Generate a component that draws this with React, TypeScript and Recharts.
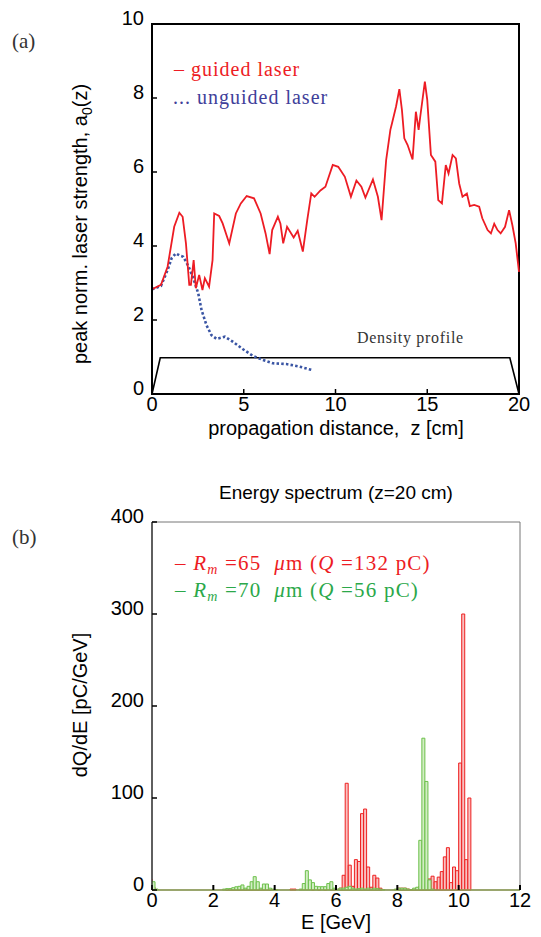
import React from 'react'
import { Bar, BarChart, Line, LineChart, ReferenceArea, XAxis, YAxis } from 'recharts'

// (a) peak normalised laser strength vs propagation distance
const guidedZ = [0, 0.49, 0.85, 1.21, 1.49, 1.67, 1.85, 2.03, 2.12, 2.27, 2.39, 2.57, 2.75, 2.88, 3.11, 3.3, 3.39, 3.66, 3.85, 4.21, 4.57, 4.84, 5.16, 5.56, 5.92, 6.19, 6.41, 6.55, 6.86, 7.0, 7.15, 7.36, 7.72, 7.94, 8.22, 8.46, 8.68, 8.86, 9.18, 9.45, 9.85, 10.15, 10.51, 10.84, 11.14, 11.41, 11.63, 12.04, 12.31, 12.51, 12.76, 12.99, 13.08, 13.3, 13.48, 13.62, 13.75, 13.93, 14.2, 14.38, 14.53, 14.62, 14.87, 15.0, 15.2, 15.44, 15.6, 15.8, 16.01, 16.16, 16.38, 16.56, 16.74, 16.92, 17.16, 17.32, 17.56, 17.83, 18.0, 18.29, 18.47, 18.65, 18.83, 19.0, 19.24, 19.46, 19.64, 19.82, 20]
const guidedA = [2.83, 2.95, 3.44, 4.52, 4.9, 4.79, 4.07, 2.95, 2.95, 3.62, 2.86, 3.22, 2.81, 3.13, 2.9, 3.62, 4.88, 4.81, 4.61, 4.07, 4.88, 5.15, 5.35, 5.29, 4.88, 4.34, 3.78, 4.43, 4.79, 4.6, 4.07, 4.52, 4.23, 4.41, 3.85, 4.7, 5.42, 5.33, 5.5, 5.6, 6.19, 6.14, 5.87, 5.33, 5.77, 5.6, 5.31, 5.8, 5.33, 4.7, 6.32, 7.14, 7.32, 7.77, 8.24, 7.68, 6.91, 6.73, 6.34, 7.63, 7.14, 7.5, 8.44, 7.95, 6.46, 6.28, 5.24, 5.15, 6.19, 5.96, 6.46, 6.37, 5.69, 5.33, 5.42, 5.08, 5.11, 5.06, 4.75, 4.43, 4.34, 4.6, 4.43, 4.34, 4.52, 4.97, 4.56, 4.07, 3.3]

const unguidedZ = [0, 0.49, 0.85, 1.07, 1.3, 1.52, 1.7, 1.98, 2.25, 2.52, 2.7, 2.97, 3.24, 3.52, 3.97, 4.42, 4.96, 5.5, 6.05, 6.59, 7.32, 8.04, 8.71]
const unguidedA = [2.83, 2.92, 3.35, 3.67, 3.8, 3.74, 3.71, 3.46, 3.13, 2.72, 2.27, 1.86, 1.59, 1.49, 1.55, 1.41, 1.21, 1.03, 0.92, 0.83, 0.81, 0.74, 0.65]

const densityZ = [0, 0.45, 19.5, 20]
const densityN = [0, 0.98, 0.98, 0]

const zTicks = [0, 5, 10, 15, 20]
const aTicks = [0, 2, 4, 6, 8, 10]

// (b) energy spectrum, bin centres in GeV
const energyBins = [-0.05, 0.05, 0.15, 2.35, 2.45, 2.55, 2.65, 2.75, 2.85, 2.95, 3.05, 3.15, 3.25, 3.35, 3.45, 3.55, 3.65, 3.75, 3.85, 3.95, 4.05, 4.55, 4.65, 4.85, 4.95, 5.05, 5.15, 5.25, 5.35, 5.45, 5.55, 5.65, 5.75, 5.85, 5.95, 6.05, 6.15, 6.25, 6.35, 6.45, 6.55, 6.65, 6.75, 6.85, 6.95, 7.05, 7.15, 7.25, 7.35, 7.45, 7.55, 7.95, 8.05, 8.15, 8.25, 8.35, 8.45, 8.55, 8.65, 8.75, 8.85, 8.95, 9.05, 9.15, 9.25, 9.35, 9.45, 9.55, 9.65, 9.75, 9.85, 9.95, 10.05, 10.15, 10.25, 10.35]
const redQ = [12, 3, 0, 0, 0.5, 1, 0.5, 1, 0.5, 1, 0.5, 1, 0.5, 1, 0.5, 1, 0.5, 1, 0.5, 0, 0, 1, 1, 0, 0, 0, 0, 0.5, 0, 0.5, 0, 0.5, 0, 0.5, 1, 0, 2, 16, 116, 27, 4, 33, 31, 83, 88, 25, 3, 16, 13, 2, 0, 0, 2, 2, 2, 1, 0.5, 1, 2, 4, 5, 8, 12, 15, 9, 14, 20, 36, 46, 8, 25, 21, 138, 300, 33, 100]
const greenQ = [6, 9, 1, 1, 1.5, 1.5, 2.5, 3.5, 4, 5.5, 2, 4, 9, 14.5, 9, 2, 6.5, 6.5, 2, 1, 0.5, 0, 0, 1, 7, 21, 11, 8, 4, 3.6, 3.6, 3.6, 7, 9, 2, 1, 2, 2, 3, 4, 2, 1, 1.5, 2, 1, 2, 1, 2, 1.5, 1, 0.5, 1, 2, 2, 2, 1, 0.5, 2, 3, 54, 165, 118, 11, 1, 0, 0, 0, 0, 0, 0, 0, 0, 0, 0, 0, 0]

const eTicks = [0, 2, 4, 6, 8, 10, 12]
const qTicks = [0, 100, 200, 300, 400]

const guided = guidedZ.map((z, i) => ({ z, a: guidedA[i] }))
const unguided = unguidedZ.map((z, i) => ({ z, a: unguidedA[i] }))
const density = densityZ.map((z, i) => ({ z, a: densityN[i] }))
const spectrum = energyBins.map((e, i) => ({ e, red: redQ[i], green: greenQ[i] }))

const SANS = '"Liberation Sans", Arial, sans-serif'
const SERIF = '"Liberation Serif", "Times New Roman", serif'
const RED = '#ED1C24'
const BLUE = '#3A55A4'
const GREEN_TXT = '#2BA84A'

const YTick = (props: any) => (
  <text x={props.x} y={props.y - 6} textAnchor="end" dominantBaseline="central" fontSize={20} fontFamily={SANS} fill="#000">
    {props.payload.value}
  </text>
)

const XTick = (props: any) => (
  <text x={props.x} y={props.y} dy="0.71em" textAnchor="middle" fontSize={20} fontFamily={SANS} fill="#000">
    {props.payload.value}
  </text>
)

const LaserChart = () => (
  <LineChart width={541} height={460} margin={{ top: 24, right: 22, bottom: 36, left: 92 }}>
    <XAxis type="number" dataKey="z" domain={[0, 20]} ticks={zTicks} height={30}
      tickSize={-5} tickMargin={8} tick={<XTick />}
      axisLine={{ stroke: '#000', strokeWidth: 2 }} tickLine={{ stroke: '#000', strokeWidth: 1.5 }} />
    <YAxis type="number" domain={[0, 10]} ticks={aTicks} width={60}
      tickSize={-5} tickMargin={13} tick={<YTick />}
      axisLine={{ stroke: '#000', strokeWidth: 2 }} tickLine={{ stroke: '#000', strokeWidth: 1.5 }} />
    <ReferenceArea x1={0} x2={20} y1={0} y2={10} fill="none" stroke="#000" strokeWidth={2} />
    <Line data={density} dataKey="a" stroke="#000" strokeWidth={1.6} dot={false} isAnimationActive={false} />
    <Line data={unguided} dataKey="a" stroke={BLUE} strokeWidth={2.6} strokeDasharray="2.5 2.2" dot={false} isAnimationActive={false} />
    <Line data={guided} dataKey="a" stroke={RED} strokeWidth={1.8} dot={false} isAnimationActive={false} />

    <text x={12} y={48} fontSize={21} fontFamily={SERIF} fill="#333">(a)</text>
    <text x={174} y={76} fontSize={20} fontFamily={SERIF} fill={RED} letterSpacing={1} style={{ whiteSpace: 'pre' }}>– guided laser</text>
    <text x={173} y={104} fontSize={20} fontFamily={SERIF} fill="#40409A" letterSpacing={1} style={{ whiteSpace: 'pre' }}>... unguided laser</text>
    <text x={357} y={343} fontSize={16} fontFamily={SERIF} fill="#333" letterSpacing={0.7}>Density profile</text>
    <text x={336} y={435} textAnchor="middle" fontSize={20} fontFamily={SANS} fill="#000" style={{ whiteSpace: 'pre' }}>propagation distance,  z [cm]</text>
    <text transform="translate(87,224) rotate(-90)" textAnchor="middle" fontSize={20} fontFamily={SANS} fill="#000">
      peak norm. laser strength, a<tspan fontSize={14} dy={5}>0</tspan><tspan dy={-5}>(z)</tspan>
    </text>
  </LineChart>
)

const SpectrumChart = () => (
  <BarChart width={541} height={467} data={spectrum} margin={{ top: 52, right: 21, bottom: 17, left: 92 }} barCategoryGap={0} barGap={0}>
    <XAxis xAxisId="g" type="number" dataKey="e" domain={[0, 12]} hide height={0} allowDataOverflow />
    <XAxis xAxisId="r" type="number" dataKey="e" domain={[0, 12]} ticks={eTicks} height={30} allowDataOverflow
      tickSize={-5} tickMargin={8} tick={<XTick />}
      axisLine={{ stroke: '#8f9f55', strokeWidth: 1.5 }} tickLine={{ stroke: '#000', strokeWidth: 2 }} />
    <YAxis type="number" domain={[0, 400]} ticks={qTicks} width={60}
      tickSize={-5} tickMargin={13} tick={<YTick />}
      axisLine={{ stroke: '#222', strokeWidth: 1.2 }} tickLine={{ stroke: '#000', strokeWidth: 1.5 }} />
    <ReferenceArea xAxisId="r" x1={0} x2={12} y1={0} y2={400} fill="none" stroke="#777" strokeWidth={1} />
    <Bar xAxisId="r" dataKey="red" barSize={3} fill="#F9C0C0" stroke="#EE2020" strokeWidth={1} isAnimationActive={false} />
    <Bar xAxisId="g" dataKey="green" barSize={3} fill="#D2EDC4" stroke="#6CC04A" strokeWidth={1} isAnimationActive={false} />

    <text x={12} y={74} fontSize={21} fontFamily={SERIF} fill="#333">(b)</text>
    <text x={336} y={29} textAnchor="middle" fontSize={19} fontFamily={SANS} fill="#000">Energy spectrum (z=20 cm)</text>
    <text x={175} y={100} fontSize={21} fontFamily={SERIF} fill={RED} letterSpacing={1.2} style={{ whiteSpace: 'pre' }}>
      – <tspan fontStyle="italic">R</tspan><tspan fontStyle="italic" fontSize={14} dy={4}>m</tspan><tspan dy={-4}> =65  </tspan><tspan fontStyle="italic">μ</tspan>m (<tspan fontStyle="italic">Q</tspan> =132 pC)
    </text>
    <text x={175} y={127} fontSize={21} fontFamily={SERIF} fill={GREEN_TXT} letterSpacing={1.2} style={{ whiteSpace: 'pre' }}>
      – <tspan fontStyle="italic">R</tspan><tspan fontStyle="italic" fontSize={14} dy={4}>m</tspan><tspan dy={-4}> =70  </tspan><tspan fontStyle="italic">μ</tspan>m (<tspan fontStyle="italic">Q</tspan> =56 pC)
    </text>
    <text x={336} y={459} textAnchor="middle" fontSize={20} fontFamily={SANS} fill="#000">E [GeV]</text>
    <text transform="translate(87,235) rotate(-90)" textAnchor="middle" fontSize={20} fontFamily={SANS} fill="#000">dQ/dE [pC/GeV]</text>
  </BarChart>
)

export default function App() {
  return (
    <div style={{ position: 'absolute', left: 0, top: 0, width: 541, height: 937, background: '#fff' }}>
      <div style={{ position: 'absolute', left: 0, top: 0 }}>
        <LaserChart />
      </div>
      <div style={{ position: 'absolute', left: 0, top: 470 }}>
        <SpectrumChart />
      </div>
    </div>
  )
}
